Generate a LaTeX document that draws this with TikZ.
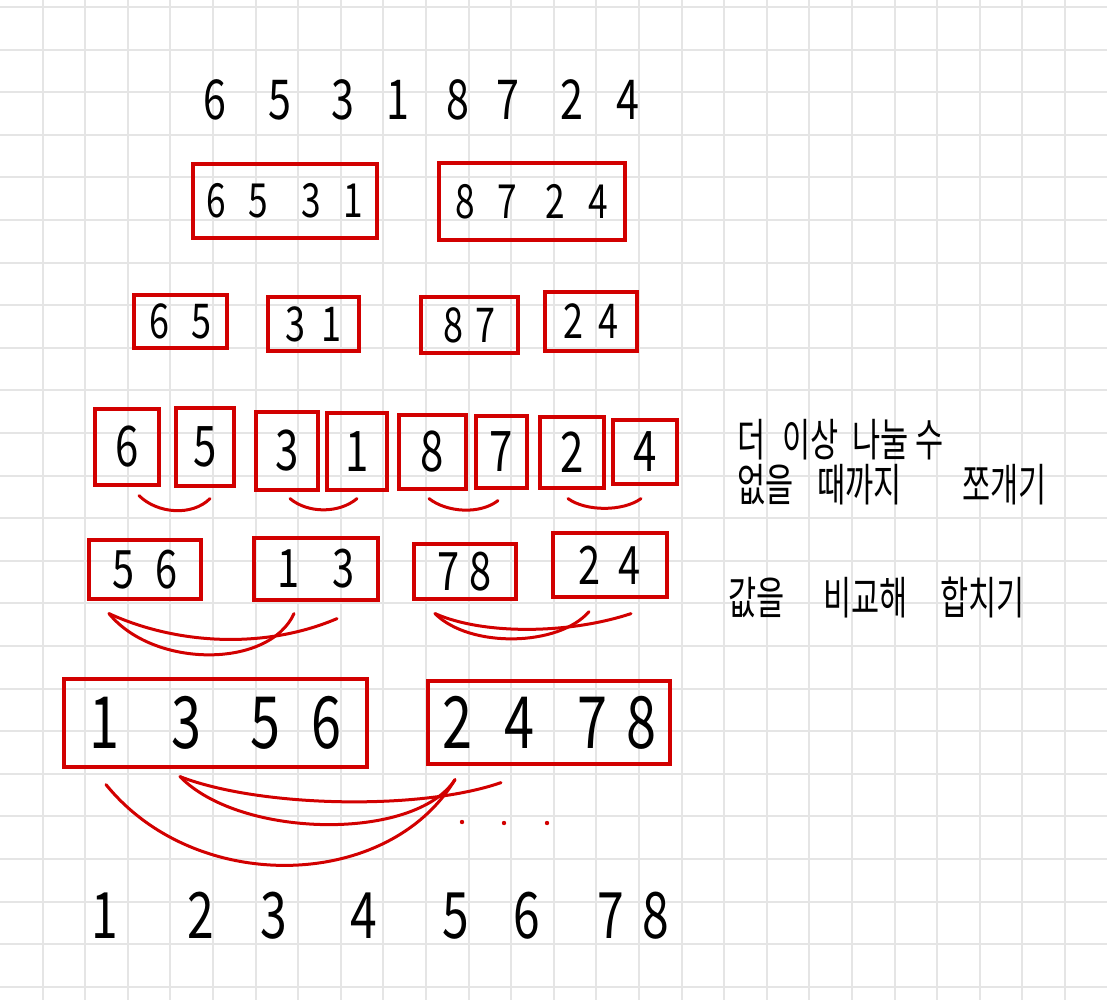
\documentclass[tikz,border=0pt]{standalone}
\usepackage{fontspec}
\newfontfamily\numfont[FakeStretch=0.75]{Noto Sans CJK KR}
\newfontfamily\kofont[FakeStretch=0.68]{Noto Sans CJK KR}
\definecolor{pen}{RGB}{210,0,0}
\definecolor{paper}{RGB}{229,229,229}
\newcommand{\dgt}[1]{\makebox[0pt]{#1}}

\begin{document}
\begin{tikzpicture}
      [x=1pt,y=1pt,
      every node/.style={inner sep=0pt,text=black},
      box/.style={draw=pen,line width=3.2pt},
      merge/.style={draw=pen,line width=3pt,line cap=round},
      gridline/.style={draw=paper,line width=2pt},
      note/.style={anchor=west,font=\kofont\fontsize{45}{45}\selectfont},
      row1/.style={font=\numfont\fontsize{55}{55}\selectfont},
      row2/.style={font=\numfont\fontsize{47}{47}\selectfont},
      row3/.style={font=\numfont\fontsize{48}{48}\selectfont},
      row4/.style={font=\numfont\fontsize{56}{56}\selectfont},
      row5/.style={font=\numfont\fontsize{53}{53}\selectfont},
      row6/.style={font=\numfont\fontsize{72}{72}\selectfont},
      row7/.style={font=\numfont\fontsize{64}{64}\selectfont}]
     \useasboundingbox[fill=white] (0,0) rectangle (1107,-1000);
     % squared paper
     \foreach \i in {1,...,25} \draw[gridline] (\i*42.6,0) -- (\i*42.6,-1000);
     \foreach \j in {0,...,23} \draw[gridline] (0,-7-\j*42.6) -- (1107,-7-\j*42.6);
     % input
     \node[row1] (top) at (421.5,-100) {\dgt6\hspace{65pt}\dgt5\hspace{63pt}\dgt3\hspace{55pt}\dgt1\hspace{60pt}\dgt8\hspace{50pt}\dgt7\hspace{64pt}\dgt2\hspace{56pt}\dgt4};
     % split
     \node[box,row2,minimum width=184pt,minimum height=74pt] (b21) at (285,-201) {\dgt6\hspace{42pt}\dgt5\hspace{53pt}\dgt3\hspace{42pt}\dgt1};
     \node[box,row2,minimum width=186pt,minimum height=77pt] (b22) at (532,-201.5) {\dgt8\hspace{42pt}\dgt7\hspace{48pt}\dgt2\hspace{43pt}\dgt4\hspace{11pt}};
     \node[box,row3,minimum width=93pt,minimum height=53pt] (b31) at (180.5,-321.5) {\dgt6\hspace{42pt}\dgt5};
     \node[box,row3,minimum width=91pt,minimum height=54pt] (b32) at (313.5,-324) {\dgt3\hspace{36pt}\dgt1};
     \node[box,row3,minimum width=97pt,minimum height=56pt] (b33) at (469.5,-325) {\dgt8\hspace{32pt}\dgt7};
     \node[box,row3,minimum width=92pt,minimum height=59pt] (b34) at (591,-321.5) {\dgt2\hspace{35pt}\dgt4};
     \node[box,row4,minimum width=64pt,minimum height=76pt] (b41) at (127,-447) {6};
     \node[box,row4,minimum width=58pt,minimum height=78pt] (b42) at (205,-447) {5};
     \node[box,row4,minimum width=62pt,minimum height=78pt] (b43) at (287,-451) {3};
     \node[box,row4,minimum width=60pt,minimum height=77pt] (b44) at (357,-451.5) {1};
     \node[box,row4,minimum width=67pt,minimum height=74pt] (b45) at (432.5,-452) {8};
     \node[box,row4,minimum width=51pt,minimum height=72pt] (b46) at (501.5,-452) {7};
     \node[box,row4,minimum width=64pt,minimum height=71pt] (b47) at (572,-452.5) {2};
     \node[box,row4,minimum width=64pt,minimum height=64pt] (b48) at (645,-452) {4};
     \node[note] (say1) at (737,-440) {\makebox[45pt][l]{더}\makebox[70pt][l]{이상}나눌 수};
     \node[note] (say2) at (737,-485) {\makebox[80pt][l]{없을}\makebox[145pt][l]{때까지}쪼개기};
     % merge
     \draw[merge] ([shift={(12,-9)}]b41.south) .. controls +(18,-18) and +(-18,-18) .. ([shift={(5,-11)}]b42.south);
     \draw[merge] ([shift={(3,-7)}]b43.south) .. controls +(18,-15) and +(-18,-15) .. ([shift={(0,-7)}]b44.south);
     \draw[merge] ([shift={(-3.5,-8)}]b45.south) .. controls +(18,-14) and +(-18,-14) .. ([shift={(-3.5,-11)}]b46.south);
     \draw[merge] ([shift={(-4,-9)}]b47.south) .. controls +(18,-13) and +(-18,-13) .. ([shift={(-4,-13)}]b48.south);
     \node[box,row5,minimum width=112pt,minimum height=59pt] (b51) at (145,-569.5) {\dgt5\hspace{43pt}\dgt6\hspace{17pt}};
     \node[box,row5,minimum width=124pt,minimum height=62pt] (b52) at (316,-569) {\dgt1\hspace{55pt}\dgt3};
     \node[box,row5,minimum width=102pt,minimum height=55pt] (b53) at (465,-571.5) {\dgt7\hspace{32pt}\dgt8\hspace{14pt}};
     \node[box,row5,minimum width=114pt,minimum height=64pt] (b54) at (610,-565) {\dgt2\hspace{40pt}\dgt4};
     \node[note] (say3) at (728,-597) {\makebox[95pt][l]{값을}\makebox[117pt][l]{비교해}합치기};
     \draw[merge] ([shift={(-36,-13)}]b51.south) .. controls +(45,-55) and +(-25,-55) .. ([shift={(-22,-12)}]b52.south);
     \draw[merge] ([shift={(-36,-13)}]b51.south) .. controls +(70,-32) and +(-70,-30) .. ([shift={(21,-17)}]b52.south);
     \draw[merge] ([shift={(-30,-13)}]b53.south) .. controls +(35,-35) and +(-30,-35) .. ([shift={(-21,-13)}]b54.south);
     \draw[merge] ([shift={(-30,-13)}]b53.south) .. controls +(50,-22) and +(-60,-20) .. ([shift={(21,-15)}]b54.south);
     \node[box,row6,minimum width=303pt,minimum height=88pt] (b61) at (215.5,-723) {\dgt1\hspace{82pt}\dgt3\hspace{79pt}\dgt5\hspace{61pt}\dgt6};
     \node[box,row6,minimum width=242pt,minimum height=83pt] (b62) at (549,-722.5) {\dgt2\hspace{63pt}\dgt4\hspace{72pt}\dgt7\hspace{49pt}\dgt8};
     \draw[merge] ([shift={(-109.5,-16)}]b61.south) .. controls +(90,-111) and +(-67,-111) .. ([shift={(-94,-14)}]b62.south);
     \draw[merge] ([shift={(-35.5,-8)}]b61.south) .. controls +(60,-62) and +(-40,-62) .. ([shift={(-94,-14)}]b62.south);
     \draw[merge] ([shift={(-35.5,-8)}]b61.south) .. controls +(80,-31) and +(-80,-28) .. ([shift={(-48,-17)}]b62.south);
     \foreach \x/\y in {462/822,504/823,547/823} \fill[pen] (\x,-\y) circle (2.2pt);
     % result
     \node[row7] (out) at (380.5,-916) {\dgt1\hspace{96pt}\dgt2\hspace{73pt}\dgt3\hspace{90pt}\dgt4\hspace{92pt}\dgt5\hspace{71pt}\dgt6\hspace{84pt}\dgt7\hspace{45pt}\dgt8};
    \end{tikzpicture}
\end{document}
